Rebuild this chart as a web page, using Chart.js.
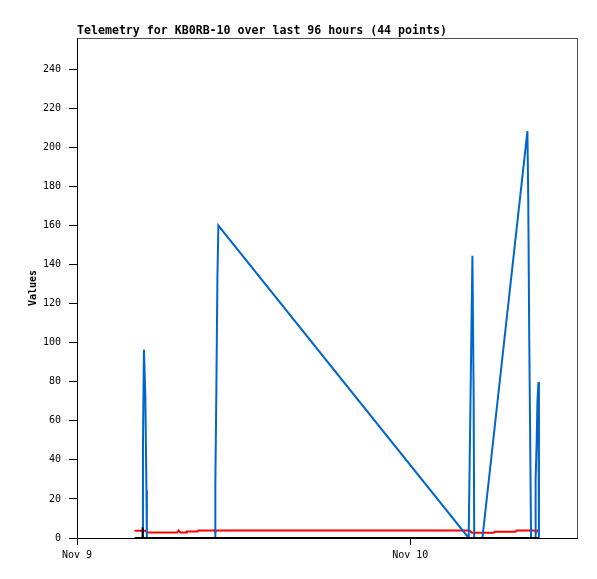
<!DOCTYPE html>
<html>
<head>
<meta charset="utf-8">
<script src="https://cdn.jsdelivr.net/npm/chart.js@4/dist/chart.umd.min.js"></script>
<style>
  html, body { margin: 0; padding: 0; background: #fff; }
  #wrap { width: 597px; height: 579px; }
</style>
</head>
<body>
<div id="wrap"><canvas id="telemetryChart" width="597" height="579"></canvas></div>
<script>
// hours since Nov 9 00:00
let tickHours = [0, 24];
let tickLabels = ['Nov 9', 'Nov 10'];

let blueHours = [4.73, 4.75, 4.82, 4.92, 5.00, 5.03, 9.94, 9.96, 10.04, 10.11, 10.18, 28.20, 28.47, 28.56, 28.60, 29.19, 32.43, 32.49, 32.56, 32.65, 32.69, 32.98, 33.00, 33.04, 33.10, 33.15, 33.22, 33.26];
let blueValues = [0, 48.5, 96.5, 72.5, 24.5, 0, 0, 27, 80, 133.5, 160, 0, 144.5, 72, 0, 0, 208.3, 173.6, 103.7, 34.7, 0, 0, 10, 30, 50, 69.6, 79.8, 0];

let redHours = [4.15, 4.95, 5.04, 7.21, 7.32, 7.43, 7.85, 7.90, 8.68, 8.73, 9.89, 9.96, 10.04, 28.27, 28.42, 30.00, 30.07, 31.58, 31.65, 32.98, 33.06, 33.13, 33.24];
let redValues = [3.7, 3.7, 2.8, 2.8, 3.9, 2.8, 2.8, 3.3, 3.3, 3.8, 3.8, 2.9, 3.8, 3.8, 2.7, 2.7, 3.2, 3.2, 3.8, 3.8, 2.9, 3.8, 3.8];

let blackHours = [4.15, 4.68, 4.71, 4.74, 33.26];
let blackValues = [0, 0, 5.5, 0, 0];

function pts(xs, ys) {
  return xs.map((x, i) => ({ x: x, y: ys[i] }));
}

// frame on top and right like the original plot
let framePlugin = {
  id: 'frame',
  afterDraw(chart) {
    let a = chart.chartArea;
    let c = chart.ctx;
    c.save();
    c.strokeStyle = '#505050';
    c.lineWidth = 1;
    c.beginPath();
    c.moveTo(Math.round(a.left) + 0.5, Math.round(a.top) + 0.5);
    c.lineTo(Math.round(a.right) + 0.5, Math.round(a.top) + 0.5);
    c.lineTo(Math.round(a.right) + 0.5, Math.round(a.bottom));
    c.stroke();
    c.restore();
  }
};

let ctx = document.getElementById('telemetryChart').getContext('2d');

let telemetryChart = new Chart(ctx, {
  type: 'line',
  data: {
    datasets: [
      {
        label: 'ch3',
        data: pts(blackHours, blackValues),
        borderColor: '#000000',
        borderWidth: 2,
        pointRadius: 0,
        fill: false
      },
      {
        label: 'ch1',
        data: pts(blueHours, blueValues),
        borderColor: '#0066cc',
        borderWidth: 2,
        pointRadius: 0,
        fill: false
      },
      {
        label: 'ch2',
        data: pts(redHours, redValues),
        borderColor: '#ff0000',
        borderWidth: 2,
        pointRadius: 0,
        fill: false
      }
    ]
  },
  options: {
    responsive: false,
    animation: false,
    layout: { padding: { left: 0, right: 20, top: 0, bottom: 0 } },
    plugins: {
      legend: { display: false },
      tooltip: { enabled: false },
      title: {
        display: true,
        text: 'Telemetry for KB0RB-10 over last 96 hours (44 points)',
        align: 'start',
        fullSize: false,
        color: '#000',
        font: { family: 'DejaVu Sans Mono', size: 11.6, weight: 'bold', lineHeight: '14px' },
        padding: { top: 24, bottom: 0 }
      }
    },
    elements: { line: { tension: 0 } },
    scales: {
      x: {
        type: 'linear',
        min: 0,
        max: 36,
        afterFit(scale) { scale.height = 41; },
        afterBuildTicks(scale) { scale.ticks = tickHours.map(v => ({ value: v })); },
        grid: { drawOnChartArea: false, tickLength: 7, color: '#000', lineWidth: 1 },
        border: { color: '#000', width: 1 },
        ticks: {
          color: '#000',
          padding: 4,
          maxRotation: 0,
          font: { family: 'DejaVu Sans Mono', size: 10 },
          callback: v => tickLabels[tickHours.indexOf(v)]
        }
      },
      y: {
        min: 0,
        max: 256,
        afterFit(scale) { scale.width = 77; },
        grid: { drawOnChartArea: false, tickLength: 8, color: '#000', lineWidth: 1 },
        border: { color: '#000', width: 1 },
        ticks: {
          stepSize: 20,
          includeBounds: false,
          color: '#000',
          padding: 8,
          font: { family: 'DejaVu Sans Mono', size: 10 }
        },
        title: {
          display: true,
          text: 'Values',
          color: '#000',
          font: { family: 'DejaVu Sans Mono', size: 10, weight: 'bold' },
          padding: { top: 27, bottom: 0 }
        }
      }
    }
  },
  plugins: [framePlugin]
});
</script>
</body>
</html>
